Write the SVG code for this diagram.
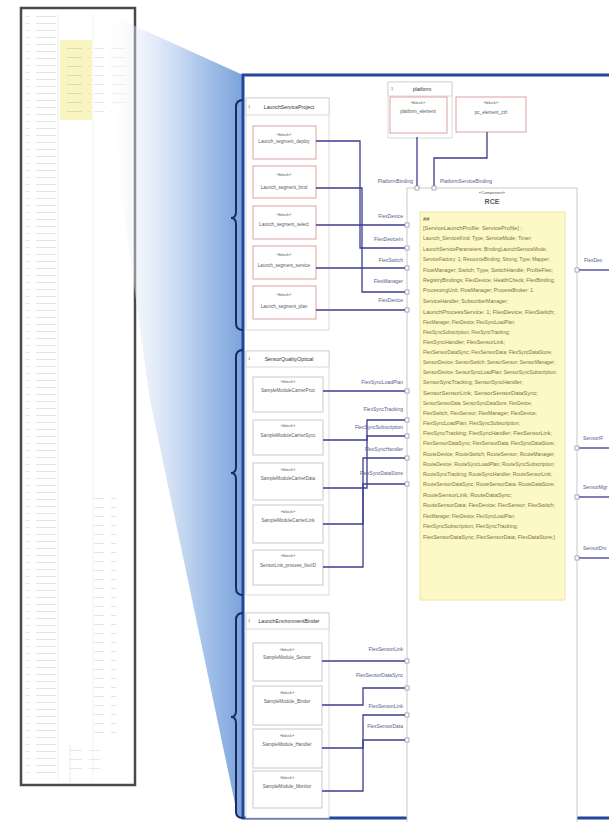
<svg xmlns="http://www.w3.org/2000/svg" width="609" height="822" viewBox="0 0 609 822">
<defs>
<linearGradient id="zoomGrad" gradientUnits="userSpaceOnUse" x1="105" y1="0" x2="243" y2="0">
<stop offset="0" stop-color="#ffffff" stop-opacity="0"/>
<stop offset="0.3" stop-color="#dbe6f6" stop-opacity="0.6"/>
<stop offset="0.7" stop-color="#a9c5ea"/>
<stop offset="1" stop-color="#7aa3dc"/>
</linearGradient>
<pattern id="mini" width="34" height="7" patternUnits="userSpaceOnUse">
<rect x="2" y="2" width="20" height="1" fill="#a0a0a0"/>
<rect x="24" y="2" width="6" height="1" fill="#bdbdbd"/>
</pattern>
<pattern id="mini2" width="22" height="9" patternUnits="userSpaceOnUse">
<rect x="1" y="3" width="15" height="1" fill="#a8a8a8"/>
</pattern>
</defs>
<style>
.frame{fill:#fff;stroke:#4a4a4a;stroke-width:2.5}
.panel{fill:#fff;stroke:#23479a;stroke-width:3}
.brace{fill:none;stroke:#1c2b5c;stroke-width:2}
.grp{fill:#fff;stroke:#d2d2d2;stroke-width:0.8}
.hdr{fill:#fff;stroke:#cfcfcf;stroke-width:0.8}
.blk{fill:#fff;stroke:#e0a0a0;stroke-width:1}
.comp{fill:#fff;stroke:#c9c9c9;stroke-width:1}
.note{fill:#fdf9c6;stroke:#ece6a6;stroke-width:1}
.conn{fill:none;stroke:#3c3c8e;stroke-width:1.3}
.port{fill:#fff;stroke:#8a8a9a;stroke-width:0.7}
.t{font-family:"Liberation Sans",Arial,sans-serif;fill:#5a5a5a}
.st{font-size:4.2px;text-anchor:middle}
.nm{font-size:4.6px;text-anchor:middle}
.hd{font-size:5.2px;text-anchor:middle;fill:#333}
.lb{font-family:"Liberation Sans",Arial,sans-serif;font-size:5px;fill:#555a90}
.nt{font-family:"Liberation Sans",Arial,sans-serif;font-size:6px;fill:#77733f}
</style>

<!-- thumbnail overview -->
<g id="overview">
<rect class="frame" x="21" y="8" width="114" height="777"/>
<rect x="25" y="14" width="32" height="764" fill="url(#mini)" opacity="0.3"/>
<line x1="58" y1="14" x2="58" y2="780" stroke="#e4e4e4" stroke-width="0.6"/>
<rect x="60" y="40" width="32" height="80" fill="#f8f2b0" opacity="0.8"/>
<rect x="62" y="44" width="28" height="70" fill="url(#mini2)" opacity="0.35"/>
<line x1="93" y1="14" x2="93" y2="780" stroke="#ececec" stroke-width="0.6"/>
<rect x="94" y="48" width="18" height="70" fill="url(#mini2)" opacity="0.25"/>
<rect x="112" y="44" width="18" height="60" fill="url(#mini2)" opacity="0.2"/>
<rect x="94" y="495" width="22" height="245" fill="url(#mini2)" opacity="0.3"/>
<rect x="70" y="745" width="30" height="30" fill="url(#mini2)" opacity="0.25"/>
<line x1="70" y1="745" x2="70" y2="782" stroke="#dadada" stroke-width="0.6"/>
</g>

<!-- zoom wedge -->
<polygon id="wedge" points="104,12 243,75 243,818 238,818 150,400 122,200" fill="url(#zoomGrad)"/>

<!-- main panel -->
<rect class="panel" x="243" y="75" width="380" height="743"/>

<!-- braces -->
<g id="braces">
<path class="brace" d="M243,100 Q236,100 236,107 L236,212 Q236,218 231,218 Q236,218 236,224 L236,323 Q236,330 243,330"/>
<path class="brace" d="M243,350 Q236,350 236,357 L236,467 Q236,473 231,473 Q236,473 236,479 L236,588 Q236,595 243,595"/>
<path class="brace" d="M243,613 Q236,613 236,620 L236,711 Q236,717 231,717 Q236,717 236,723 L236,812 Q236,818 243,818"/>
</g>

<!-- group 1 -->
<g id="group1">
<rect class="grp" x="246" y="98" width="83" height="232"/>
<rect class="hdr" x="246" y="98" width="83" height="17"/>
<text class="t" x="248" y="108" font-size="4">1</text>
<text class="t hd" x="289" y="109">LaunchServiceProject</text>
</g>
<g id="g1b1"><rect class="blk" x="253" y="126" width="63" height="33"/><text class="t st" x="284" y="136">«block»</text><text class="t nm" x="284" y="143">Launch_segment_deploy</text></g>
<g id="g1b2"><rect class="blk" x="253" y="166" width="63" height="32"/><text class="t st" x="284" y="176">«block»</text><text class="t nm" x="284" y="189">Launch_segment_bind</text></g>
<g id="g1b3"><rect class="blk" x="253" y="206" width="63" height="33"/><text class="t st" x="284" y="216">«block»</text><text class="t nm" x="284" y="226">Launch_segment_select</text></g>
<g id="g1b4"><rect class="blk" x="253" y="246" width="63" height="33"/><text class="t st" x="284" y="256">«block»</text><text class="t nm" x="284" y="267">Launch_segment_service</text></g>
<g id="g1b5"><rect class="blk" x="253" y="286" width="63" height="33"/><text class="t st" x="284" y="296">«block»</text><text class="t nm" x="284" y="308">Launch_segment_plan</text></g>

<!-- group 2 -->
<g id="group2">
<rect class="grp" x="246" y="351" width="83" height="244"/>
<rect class="hdr" x="246" y="351" width="83" height="16"/>
<text class="t" x="248" y="360" font-size="4">1</text>
<text class="t hd" x="289" y="361">SensorQualityOptical</text>
</g>
<g id="g2b1"><rect class="comp" x="253" y="377" width="70" height="35"/><text class="t st" x="288" y="383">«block»</text><text class="t nm" x="288" y="392">SampleModuleCarrierProc</text></g>
<g id="g2b2"><rect class="comp" x="253" y="420" width="70" height="35"/><text class="t st" x="288" y="427">«block»</text><text class="t nm" x="288" y="437">SampleModuleCarrierSync</text></g>
<g id="g2b3"><rect class="comp" x="253" y="463" width="70" height="37"/><text class="t st" x="288" y="471">«block»</text><text class="t nm" x="288" y="480">SampleModuleCarrierData</text></g>
<g id="g2b4"><rect class="comp" x="253" y="505" width="70" height="38"/><text class="t st" x="288" y="513">«block»</text><text class="t nm" x="288" y="522">SampleModuleCarrierLink</text></g>
<g id="g2b5"><rect class="comp" x="253" y="550" width="70" height="35"/><text class="t st" x="288" y="557">«block»</text><text class="t nm" x="288" y="567">SensorLink_process_flexID</text></g>

<!-- group 3 -->
<g id="group3">
<rect class="grp" x="246" y="613" width="83" height="205"/>
<rect class="hdr" x="246" y="613" width="83" height="16"/>
<text class="t" x="248" y="622" font-size="4">1</text>
<text class="t hd" x="289" y="623">LaunchEnvironmentBinder</text>
</g>
<g id="g3b1"><rect class="comp" x="253" y="643" width="69" height="38"/><text class="t st" x="287" y="651">«block»</text><text class="t nm" x="287" y="659">SampleModule_Sensor</text></g>
<g id="g3b2"><rect class="comp" x="253" y="686" width="69" height="39"/><text class="t st" x="287" y="694">«block»</text><text class="t nm" x="287" y="703">SampleModule_Binder</text></g>
<g id="g3b3"><rect class="comp" x="253" y="729" width="69" height="39"/><text class="t st" x="287" y="737">«block»</text><text class="t nm" x="287" y="746">SampleModule_Handler</text></g>
<g id="g3b4"><rect class="comp" x="253" y="771" width="69" height="37"/><text class="t st" x="287" y="779">«block»</text><text class="t nm" x="287" y="788">SampleModule_Monitor</text></g>

<!-- platform -->
<g id="platform">
<rect class="grp" x="388" y="82" width="64" height="56"/>
<rect class="hdr" x="388" y="82" width="64" height="14"/>
<text class="t" x="391" y="90" font-size="4">1</text>
<text class="t hd" x="422" y="91">platform</text>
<rect class="blk" x="390" y="97" width="57" height="36"/>
<text class="t st" x="418" y="104">«block»</text>
<text class="t nm" x="418" y="113">platform_element</text>
</g>
<g id="pcElement">
<rect class="blk" x="456" y="97" width="70" height="35"/>
<text class="t st" x="491" y="104">«block»</text>
<text class="t nm" x="491" y="114">pc_element_ctrl</text>
</g>

<!-- RCE -->
<g id="rce">
<rect class="comp" x="407" y="188" width="170" height="640"/>
<text class="t st" x="492" y="194">«Component»</text>
<text class="t" x="492" y="204" font-size="7" font-weight="bold" text-anchor="middle" fill="#333">RCE</text>
</g>

<!-- note -->
<g id="note">
<rect class="note" x="420" y="212" width="145" height="388"/>
<text class="nt" x="423" y="221" font-weight="bold" font-size="6.5" fill="#444">##</text>
<text class="nt" x="423" y="230" textLength="99" lengthAdjust="spacingAndGlyphs">[ServiceLaunchProfile: ServiceProfile] ;</text>
<text class="nt" x="423" y="240" textLength="109" lengthAdjust="spacingAndGlyphs">Launch_ServiceKind: Type; ServiceMode; Timer;</text>
<text class="nt" x="423" y="251" textLength="124" lengthAdjust="spacingAndGlyphs">LaunchServiceParameters; BindingLaunchServiceMode;</text>
<text class="nt" x="423" y="261" textLength="127" lengthAdjust="spacingAndGlyphs">ServiceFactory: 1; ResourceBinding; Strong; Type; Mapper;</text>
<text class="nt" x="423" y="272" textLength="130" lengthAdjust="spacingAndGlyphs">FlowManager; Switch; Type; SwitchHandle; ProfileFlex;</text>
<text class="nt" x="423" y="282" textLength="132" lengthAdjust="spacingAndGlyphs">RegistryBindings; FlexDevice; HealthCheck; FlexBinding;</text>
<text class="nt" x="423" y="292" textLength="110" lengthAdjust="spacingAndGlyphs">ProcessingUnit; FlowManager; ProcessBroker: 1</text>
<text class="nt" x="423" y="303" textLength="85" lengthAdjust="spacingAndGlyphs">ServiceHandler; SubscriberManager;</text>
<text class="nt" x="423" y="314" textLength="132" lengthAdjust="spacingAndGlyphs">LaunchProcessService: 1; FlexDevice; FlexSwitch;</text>
<text class="nt" x="423" y="324" textLength="92" lengthAdjust="spacingAndGlyphs">FlexManager; FlexDevice; FlexSyncLoadPlan;</text>
<text class="nt" x="423" y="334" textLength="87" lengthAdjust="spacingAndGlyphs">FlexSyncSubscription; FlexSyncTracking;</text>
<text class="nt" x="423" y="344" textLength="82" lengthAdjust="spacingAndGlyphs">FlexSyncHandler; FlexSensorLink;</text>
<text class="nt" x="423" y="354" textLength="129" lengthAdjust="spacingAndGlyphs">FlexSensorDataSync; FlexSensorData; FlexSyncDataStore;</text>
<text class="nt" x="423" y="364" textLength="132" lengthAdjust="spacingAndGlyphs">SensorDevice; SensorSwitch; SensorSensor; SensorManager;</text>
<text class="nt" x="423" y="374" textLength="134" lengthAdjust="spacingAndGlyphs">SensorDevice; SensorSyncLoadPlan; SensorSyncSubscription;</text>
<text class="nt" x="423" y="384" textLength="100" lengthAdjust="spacingAndGlyphs">SensorSyncTracking; SensorSyncHandler;</text>
<text class="nt" x="423" y="395" textLength="115" lengthAdjust="spacingAndGlyphs">SensorSensorLink; SensorSensorDataSync;</text>
<text class="nt" x="423" y="405" textLength="109" lengthAdjust="spacingAndGlyphs">SensorSensorData; SensorSyncDataStore; FlexDevice;</text>
<text class="nt" x="423" y="415" textLength="114" lengthAdjust="spacingAndGlyphs">FlexSwitch; FlexSensor; FlexManager; FlexDevice;</text>
<text class="nt" x="423" y="425" textLength="97" lengthAdjust="spacingAndGlyphs">FlexSyncLoadPlan; FlexSyncSubscription;</text>
<text class="nt" x="423" y="435" textLength="129" lengthAdjust="spacingAndGlyphs">FlexSyncTracking; FlexSyncHandler; FlexSensorLink;</text>
<text class="nt" x="423" y="445" textLength="132" lengthAdjust="spacingAndGlyphs">FlexSensorDataSync; FlexSensorData; FlexSyncDataStore;</text>
<text class="nt" x="423" y="456" textLength="132" lengthAdjust="spacingAndGlyphs">RouteDevice; RouteSwitch; RouteSensor; RouteManager;</text>
<text class="nt" x="423" y="466" textLength="132" lengthAdjust="spacingAndGlyphs">RouteDevice; RouteSyncLoadPlan; RouteSyncSubscription;</text>
<text class="nt" x="423" y="476" textLength="129" lengthAdjust="spacingAndGlyphs">RouteSyncTracking; RouteSyncHandler; RouteSensorLink;</text>
<text class="nt" x="423" y="486" textLength="132" lengthAdjust="spacingAndGlyphs">RouteSensorDataSync; RouteSensorData; RouteDataStore;</text>
<text class="nt" x="423" y="497" textLength="89" lengthAdjust="spacingAndGlyphs">RouteSensorLink; RouteDataSync;</text>
<text class="nt" x="423" y="507" textLength="132" lengthAdjust="spacingAndGlyphs">RouteSensorData; FlexDevice; FlexSensor; FlexSwitch;</text>
<text class="nt" x="423" y="518" textLength="92" lengthAdjust="spacingAndGlyphs">FlexManager; FlexDevice; FlexSyncLoadPlan;</text>
<text class="nt" x="423" y="528" textLength="95" lengthAdjust="spacingAndGlyphs">FlexSyncSubscription; FlexSyncTracking;</text>
<text class="nt" x="423" y="539" textLength="132" lengthAdjust="spacingAndGlyphs">FlexSensorDataSync; FlexSensorData; FlexDataStore;]</text>
</g>

<!-- connectors -->
<g id="connectors">
<path class="conn" d="M417,137 V188"/>
<path class="conn" d="M487,132 V158 H434 V188"/>
<path class="conn" d="M316,141 H360 V248 H405"/>
<path class="conn" d="M316,188 H362 V292 H405"/>
<path class="conn" d="M316,225 H405"/>
<path class="conn" d="M316,268 H405"/>
<path class="conn" d="M316,310 H405"/>
<path class="conn" d="M323,391 H405"/>
<path class="conn" d="M323,440 H367 V420 H405"/>
<path class="conn" d="M323,488 H367 V436 H405" stroke-width="2"/>
<path class="conn" d="M323,524 H363 V458 H405"/>
<path class="conn" d="M323,567 H363 V484 H405"/>
<path class="conn" d="M322,661 H405"/>
<path class="conn" d="M322,705 H363 V688 H405"/>
<path class="conn" d="M322,748 H363 V715 H405"/>
<path class="conn" d="M322,791 H363 V740 H405"/>
<path class="conn" d="M579,270 H609"/>
<path class="conn" d="M579,448 H609"/>
<path class="conn" d="M579,497 H609"/>
<path class="conn" d="M579,558 H609"/>
</g>

<!-- ports -->
<g id="ports">
<rect class="port" x="415" y="186" width="4" height="4"/>
<rect class="port" x="432" y="186" width="4" height="4"/>
<rect class="port" x="405" y="246" width="4" height="4"/>
<rect class="port" x="405" y="290" width="4" height="4"/>
<rect class="port" x="405" y="223" width="4" height="4"/>
<rect class="port" x="405" y="266" width="4" height="4"/>
<rect class="port" x="405" y="308" width="4" height="4"/>
<rect class="port" x="405" y="389" width="4" height="4"/>
<rect class="port" x="405" y="418" width="4" height="4"/>
<rect class="port" x="405" y="434" width="4" height="4"/>
<rect class="port" x="405" y="456" width="4" height="4"/>
<rect class="port" x="405" y="482" width="4" height="4"/>
<rect class="port" x="405" y="659" width="4" height="4"/>
<rect class="port" x="405" y="686" width="4" height="4"/>
<rect class="port" x="405" y="713" width="4" height="4"/>
<rect class="port" x="405" y="738" width="4" height="4"/>
<rect class="port" x="575" y="268" width="4" height="4"/>
<rect class="port" x="575" y="446" width="4" height="4"/>
<rect class="port" x="575" y="495" width="4" height="4"/>
<rect class="port" x="575" y="556" width="4" height="4"/>
</g>

<!-- connector labels -->
<g id="labels">
<text class="lb" x="413" y="183" text-anchor="end">PlatformBinding</text>
<text class="lb" x="440" y="183">PlatformServiceBinding</text>
<text class="lb" x="403" y="218" text-anchor="end">FlexDevice</text>
<text class="lb" x="403" y="241" text-anchor="end">FlexDeviceIn</text>
<text class="lb" x="403" y="262" text-anchor="end">FlexSwitch</text>
<text class="lb" x="403" y="283" text-anchor="end">FlexManager</text>
<text class="lb" x="403" y="302" text-anchor="end">FlexDevice</text>
<text class="lb" x="403" y="384" text-anchor="end">FlexSyncLoadPlan</text>
<text class="lb" x="403" y="411" text-anchor="end">FlexSyncTracking</text>
<text class="lb" x="403" y="429" text-anchor="end">FlexSyncSubscription</text>
<text class="lb" x="403" y="451" text-anchor="end">FlexSyncHandler</text>
<text class="lb" x="403" y="475" text-anchor="end">FlexSyncDataStore</text>
<text class="lb" x="403" y="651" text-anchor="end">FlexSensorLink</text>
<text class="lb" x="403" y="677" text-anchor="end">FlexSensorDataSync</text>
<text class="lb" x="403" y="708" text-anchor="end">FlexSensorLink</text>
<text class="lb" x="403" y="728" text-anchor="end">FlexSensorData</text>
<text class="lb" x="584" y="262">FlexDev</text>
<text class="lb" x="583" y="440">SensorIF</text>
<text class="lb" x="583" y="489">SensorMgr</text>
<text class="lb" x="583" y="550">SensorDrv</text>
</g>
</svg>
